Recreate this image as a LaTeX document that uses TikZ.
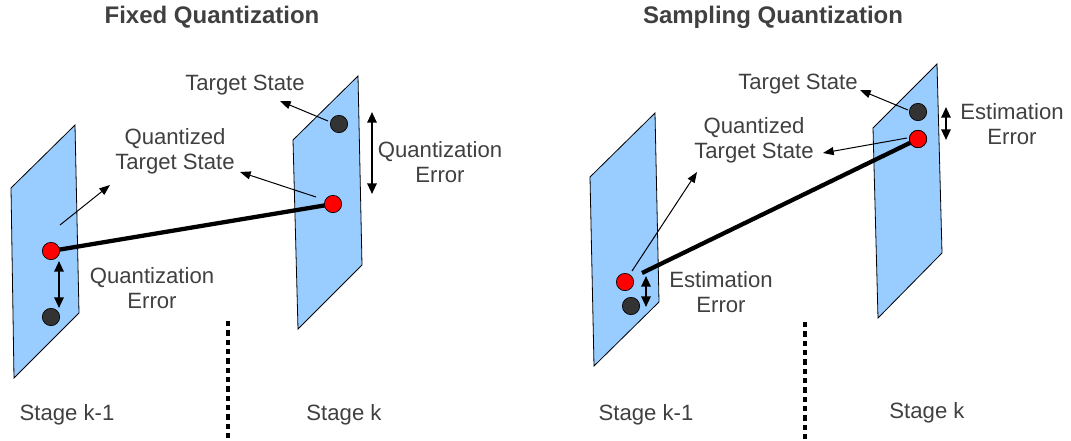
\documentclass[tikz,border=0pt]{standalone}
\usepackage{fontspec}
\setmainfont{Liberation Sans}
\usetikzlibrary{arrows.meta}
\definecolor{planeblue}{HTML}{99CCFF}
\definecolor{inkgray}{HTML}{404040}
\definecolor{dotdark}{HTML}{333333}
\begin{document}
\begin{tikzpicture}[x=0.75pt,y=-0.75pt,
  plane/.style={fill=planeblue,draw=black,line width=0.6pt,line join=miter},
  target/.style={circle,fill=dotdark,draw=black,line width=0.5pt,minimum size=13pt,inner sep=0pt},
  quant/.style={circle,fill=red,draw=black,line width=0.5pt,minimum size=13pt,inner sep=0pt},
  lbl/.style={text=inkgray,font=\fontsize{16.6}{18.8}\selectfont,align=center,inner sep=0pt},
  heading/.style={text=inkgray,font=\fontsize{18}{21}\selectfont\bfseries,inner sep=0pt},
  pointer/.style={-{Triangle[length=8pt,width=6pt]},line width=0.75pt},
  span/.style={{Triangle[length=8pt,width=7pt]}-{Triangle[length=8pt,width=7pt]},line width=1.5pt},
  link/.style={line width=3.2pt},
  divider/.style={line width=2.8pt,dash pattern=on 4pt off 3pt}]
\useasboundingbox (0,0) rectangle (1071,440);

% ---------- Fixed quantization ----------
\node[heading] (tFixed) at (212,17) {Fixed Quantization};

\draw[plane] (11,188) -- (75,125) -- (79,313) -- (14,378) -- cycle;
\draw[plane] (293,140) -- (358,76) -- (362,265) -- (298,329) -- cycle;

\draw[link] (51,251) -- (333,204);

\node[quant]  (qA) at (51,251) {};
\node[target] (sA) at (51,317) {};
\node[target] (sB) at (339,124) {};
\node[quant]  (qB) at (333,204) {};

\node[lbl] (lTargetA) at (245,85) {Target State};
\node[lbl] (lQuantA)  at (175,151) {Quantized\\Target State};
\node[lbl] (lErrA)    at (152,288) {Quantization\\Error};
\node[lbl] (lErrB)    at (440,162) {Quantization\\Error};
\node[lbl] (lStageA)  at (67,415) {Stage k-1};
\node[lbl] (lStageB)  at (344,415) {Stage k};

\coordinate (pA1) at (60,225);
\coordinate (pA2) at (110,185);
\draw[pointer] (pA1) -- (pA2);

\coordinate (pB1) at (328,121);
\coordinate (pB2) at (280,101);
\draw[pointer] (pB1) -- (pB2);

\coordinate (pC1) at (316,197);
\coordinate (pC2) at (240,172);
\draw[pointer] (pC1) -- (pC2);

\coordinate (eA1) at (59,261);
\coordinate (eA2) at (59,308);
\draw[span] (eA1) -- (eA2);

\coordinate (eB1) at (372,112);
\coordinate (eB2) at (372,194);
\draw[span] (eB1) -- (eB2);

\coordinate (dA1) at (228,321);
\coordinate (dA2) at (228,440);
\draw[divider] (dA1) -- (dA2);

% ---------- Sampling quantization ----------
\node[heading] (tSampling) at (773,17) {Sampling Quantization};

\draw[plane] (590,177) -- (655,113) -- (659,302) -- (594,366) -- cycle;
\draw[plane] (873,128) -- (937,64) -- (942,253) -- (878,318) -- cycle;

\coordinate (lkC) at (642,273);
\node[quant]  (qC) at (625,282) {};
\node[target] (sC) at (631,306) {};
\node[target] (sD) at (918,112) {};
\node[quant]  (qD) at (918,139) {};
\draw[link] (lkC) -- (qD.center);
\node[quant] at (qD) {};

\node[lbl] (lTargetD) at (798,84) {Target State};
\node[lbl] (lQuantD)  at (754,140) {Quantized\\Target State};
\node[lbl] (lErrC)    at (721,292) {Estimation\\Error};
\node[lbl] (lErrD)    at (1012,124) {Estimation\\Error};
\node[lbl] (lStageC)  at (646,415) {Stage k-1};
\node[lbl] (lStageD)  at (927,413) {Stage k};

\coordinate (pD1) at (632,271);
\coordinate (pD2) at (697,172);
\draw[pointer] (pD1) -- (pD2);

\coordinate (pE1) at (908,110);
\coordinate (pE2) at (860,90);
\draw[pointer] (pE1) -- (pE2);

\coordinate (pF1) at (907,138);
\coordinate (pF2) at (823,153);
\draw[pointer] (pF1) -- (pF2);

\coordinate (eC1) at (646,276);
\coordinate (eC2) at (646,307);
\draw[span] (eC1) -- (eC2);

\coordinate (eD1) at (946,107);
\coordinate (eD2) at (946,140);
\draw[span] (eD1) -- (eD2);

\coordinate (dB1) at (805,322);
\coordinate (dB2) at (805,440);
\draw[divider] (dB1) -- (dB2);
\end{tikzpicture}
\end{document}
